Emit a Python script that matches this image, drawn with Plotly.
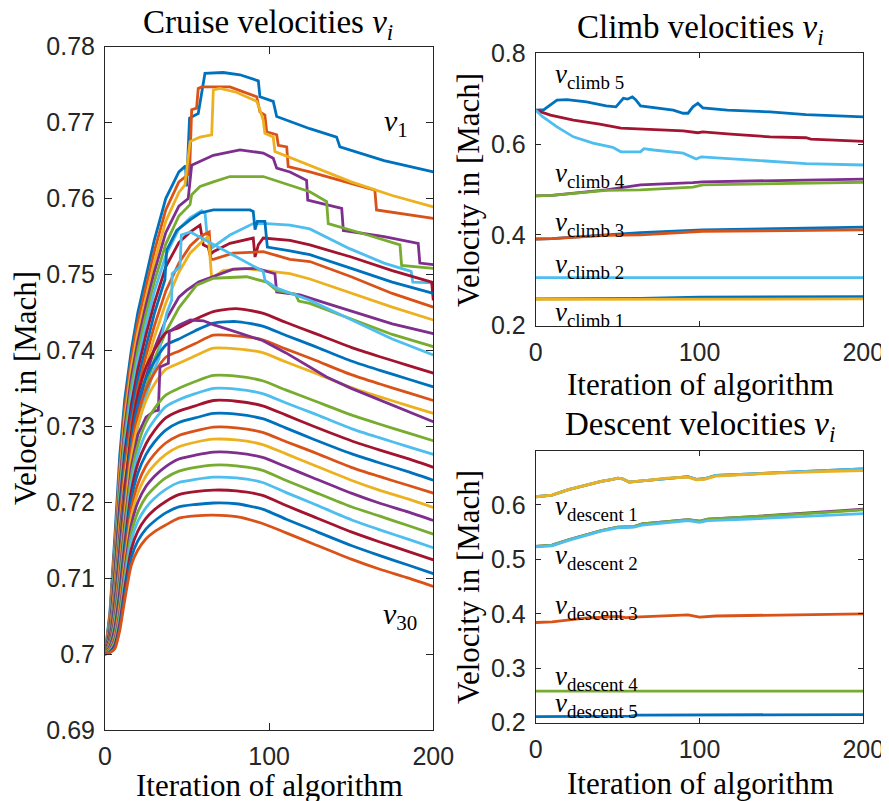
import plotly.graph_objects as go

# The page adds an 8px body margin, so page pixel p sits at figure pixel p - 8.
W, H = 889, 801
OFF = 8
COLORS = ["#0072BD", "#D95319", "#EDB120", "#7E2F8E", "#77AC30", "#4DBEEE", "#A2142F"]

# ---------------- Cruise velocities ----------------
X_SMOOTH = [0, 3, 6, 9, 12, 16, 20, 25, 30, 37, 45, 55, 66, 80, 96, 110, 127, 150, 167, 185, 200]

v1_x = [0, 3, 6, 9, 12, 16, 20, 25, 30, 37, 45, 49.1, 49.7, 51.5, 56.8, 58.9, 60.9, 72, 82.2, 93.4, 94.4, 102.5, 104.6, 124.8, 141.1, 143.1, 170, 200]
v1_y = [0.7000, 0.7055, 0.7155, 0.7262, 0.7335, 0.7400, 0.7450, 0.7498, 0.7545, 0.7600, 0.7635, 0.7643, 0.7616, 0.7706, 0.7712, 0.7739, 0.7765, 0.7766, 0.7763, 0.7755, 0.7734, 0.7728, 0.7708, 0.7692, 0.7681, 0.7668, 0.7650, 0.7635]
v2_x = [0, 3, 6, 9, 12, 16, 20, 25, 30, 37, 45, 49.7, 51.5, 52.8, 55.8, 56.8, 58.9, 76.1, 92.4, 94.4, 97.4, 98.5, 104.6, 105.6, 110.7, 111.6, 124.8, 164.4, 165.4, 200]
v2_y = [0.7000, 0.7050, 0.7145, 0.7248, 0.7322, 0.7388, 0.7437, 0.7485, 0.7530, 0.7585, 0.7622, 0.7630, 0.7633, 0.7717, 0.7719, 0.7745, 0.7747, 0.7747, 0.7734, 0.7714, 0.7710, 0.7688, 0.7684, 0.7670, 0.7668, 0.7642, 0.7635, 0.7611, 0.7585, 0.7574]
v3_x = [0, 3, 6, 9, 12, 16, 20, 25, 30, 37, 45, 48.7, 51.8, 57.9, 65, 66, 70, 80, 92.4, 94.4, 96.4, 97.4, 102.5, 103.5, 124.8, 150, 175, 200]
v3_y = [0.7000, 0.7046, 0.7137, 0.7236, 0.7310, 0.7376, 0.7424, 0.7472, 0.7516, 0.7570, 0.7608, 0.7618, 0.7675, 0.7681, 0.7684, 0.7743, 0.7745, 0.7740, 0.7728, 0.7717, 0.7703, 0.7686, 0.7681, 0.7662, 0.7644, 0.7622, 0.7604, 0.7589]
v4_x = [0, 3, 6, 9, 12, 16, 20, 25, 30, 37, 45, 50.7, 52.8, 66, 82.2, 96.4, 102.5, 104.6, 112.7, 122.8, 123.5, 144.2, 145.2, 170, 190.8, 191.8, 200]
v4_y = [0.7000, 0.7042, 0.7130, 0.7225, 0.7298, 0.7364, 0.7412, 0.7460, 0.7503, 0.7555, 0.7590, 0.7600, 0.7644, 0.7657, 0.7664, 0.7660, 0.7653, 0.7640, 0.7635, 0.7624, 0.7598, 0.7587, 0.7558, 0.7550, 0.7541, 0.7515, 0.7513]
v5_x = [0, 3, 6, 9, 12, 16, 20, 25, 30, 37, 45, 51.8, 52.8, 57.9, 66, 76.1, 96.4, 110, 124.8, 135, 136, 160, 179.7, 180.7, 200]
v5_y = [0.7000, 0.7038, 0.7122, 0.7215, 0.7287, 0.7352, 0.7400, 0.7448, 0.7490, 0.7540, 0.7577, 0.7592, 0.7605, 0.7616, 0.7622, 0.7629, 0.7629, 0.7619, 0.7609, 0.7596, 0.7567, 0.7552, 0.7539, 0.7512, 0.7508]
v6_x = [0, 3, 6, 9, 12, 16, 20, 25, 30, 37, 45, 52, 58.9, 61, 62, 65, 76.1, 90.3, 98.5, 112.7, 124.8, 149, 170, 186.5, 187.5, 200]
v6_y = [0.7000, 0.7034, 0.7114, 0.7205, 0.7276, 0.7340, 0.7388, 0.7435, 0.7477, 0.7525, 0.7560, 0.7575, 0.7584, 0.7580, 0.7555, 0.7535, 0.7552, 0.7567, 0.7567, 0.7565, 0.7560, 0.7534, 0.7515, 0.7504, 0.7490, 0.7489]
v7_x = [0, 3, 6, 9, 12, 16, 20, 25, 30, 37, 45, 52, 57.9, 59.9, 62.9, 64, 66, 76.1, 90.3, 91.4, 93.4, 96.4, 112.7, 124.8, 150, 175, 199, 200]
v7_y = [0.7000, 0.7031, 0.7107, 0.7196, 0.7265, 0.7328, 0.7375, 0.7421, 0.7462, 0.7510, 0.7542, 0.7556, 0.7565, 0.7539, 0.7536, 0.7526, 0.7530, 0.7541, 0.7548, 0.7523, 0.7539, 0.7548, 0.7545, 0.7539, 0.7523, 0.7505, 0.7490, 0.7466]
v8_x = [0, 3, 6, 9, 12, 16, 20, 25, 30, 36.5, 37.6, 43.7, 51.8, 57.9, 66, 88.3, 90.3, 91.4, 92.8, 97.4, 98.9, 112.7, 124.8, 150, 175, 200]
v8_y = [0.7000, 0.7028, 0.7100, 0.7187, 0.7254, 0.7316, 0.7362, 0.7407, 0.7448, 0.7493, 0.7532, 0.7558, 0.7572, 0.7581, 0.7585, 0.7585, 0.7583, 0.7559, 0.7570, 0.7570, 0.7536, 0.7531, 0.7526, 0.7508, 0.7490, 0.7475]
v9_x = [0, 3, 6, 9, 12, 16, 20, 25, 30, 37, 45, 52, 58, 63.5, 64.5, 66, 78, 92.4, 96.4, 112.7, 124.8, 150, 175, 200]
v9_y = [0.7000, 0.7025, 0.7093, 0.7178, 0.7243, 0.7304, 0.7349, 0.7393, 0.7432, 0.7478, 0.7515, 0.7538, 0.7550, 0.7556, 0.7520, 0.7520, 0.7528, 0.7530, 0.7530, 0.7520, 0.7517, 0.7497, 0.7475, 0.7457]
v10_x = [0, 3, 6, 9, 12, 16, 20, 25, 30, 37, 45, 51.8, 59.9, 63, 65, 72, 85, 96.4, 112.7, 124.8, 150, 175, 200]
v10_y = [0.7000, 0.7022, 0.7086, 0.7168, 0.7232, 0.7292, 0.7336, 0.7379, 0.7417, 0.7462, 0.7503, 0.7528, 0.7545, 0.7550, 0.7495, 0.7505, 0.7508, 0.7505, 0.7501, 0.7494, 0.7475, 0.7457, 0.7440]
v11_x = [0, 3, 6, 9, 12, 16, 20, 25, 30, 37, 45, 49.7, 57, 66, 78.1, 92.4, 103.5, 104.6, 118.8, 135, 150, 175, 200]
v11_y = [0.7000, 0.7020, 0.7079, 0.7159, 0.7222, 0.7281, 0.7323, 0.7365, 0.7402, 0.7440, 0.7470, 0.7479, 0.7490, 0.7497, 0.7507, 0.7508, 0.7501, 0.7477, 0.7473, 0.7462, 0.7452, 0.7435, 0.7422]
v12_x = [0, 3, 6, 9, 12, 16, 20, 25, 30, 37, 45, 55.8, 66, 86.3, 98.5, 104.6, 116, 118, 124.8, 150, 175, 200]
v12_y = [0.7000, 0.7018, 0.7074, 0.7150, 0.7212, 0.7270, 0.7311, 0.7352, 0.7388, 0.7424, 0.7456, 0.7486, 0.7495, 0.7497, 0.7490, 0.7479, 0.7474, 0.7465, 0.7462, 0.7441, 0.7421, 0.7405]
v13_x = [0, 3, 6, 9, 12, 16, 20, 25, 30, 33, 34, 37.6, 40.6, 40.9, 45.7, 46.5, 52, 96.4, 97.5, 104.6, 124.8, 150, 175, 200]
v13_y = [0.7000, 0.7016, 0.7070, 0.7143, 0.7203, 0.7260, 0.7300, 0.7340, 0.7375, 0.7390, 0.7413, 0.7449, 0.7466, 0.7501, 0.7510, 0.7552, 0.7556, 0.7504, 0.7492, 0.7482, 0.7466, 0.7440, 0.7415, 0.7394]
v14_y = [0.7000, 0.7021, 0.7068, 0.7137, 0.7210, 0.7291, 0.7341, 0.7378, 0.7400, 0.7423, 0.7430, 0.7441, 0.7451, 0.7455, 0.7449, 0.7437, 0.7423, 0.7404, 0.7392, 0.7380, 0.7370]
v15_y = [0.7000, 0.7019, 0.7063, 0.7129, 0.7200, 0.7280, 0.7329, 0.7364, 0.7385, 0.7407, 0.7415, 0.7426, 0.7436, 0.7438, 0.7432, 0.7420, 0.7406, 0.7386, 0.7374, 0.7362, 0.7352]
v16_y = [0.7000, 0.7017, 0.7057, 0.7120, 0.7190, 0.7269, 0.7315, 0.7349, 0.7370, 0.7391, 0.7399, 0.7409, 0.7420, 0.7419, 0.7414, 0.7402, 0.7388, 0.7368, 0.7356, 0.7344, 0.7334]
v17_y = [0.7000, 0.7016, 0.7052, 0.7112, 0.7181, 0.7258, 0.7302, 0.7334, 0.7355, 0.7375, 0.7383, 0.7393, 0.7403, 0.7402, 0.7397, 0.7385, 0.7371, 0.7351, 0.7339, 0.7327, 0.7317]
v18_x = [0, 3, 6, 9, 12, 16, 20, 25, 30, 32.5, 33.5, 38.6, 39.2, 45, 52, 60, 66, 76, 96, 110, 135, 150, 167, 185, 200]
v18_y = [0.7000, 0.7014, 0.7047, 0.7104, 0.7171, 0.7246, 0.7289, 0.7312, 0.7320, 0.7321, 0.7378, 0.7383, 0.7425, 0.7433, 0.7440, 0.7439, 0.7434, 0.7427, 0.7413, 0.7397, 0.7365, 0.7350, 0.7335, 0.7320, 0.7306]
v19_y = [0.7000, 0.7013, 0.7043, 0.7096, 0.7161, 0.7235, 0.7275, 0.7305, 0.7323, 0.7341, 0.7350, 0.7359, 0.7367, 0.7366, 0.7360, 0.7348, 0.7334, 0.7315, 0.7303, 0.7291, 0.7281]
v20_y = [0.7000, 0.7011, 0.7038, 0.7089, 0.7152, 0.7224, 0.7263, 0.7291, 0.7308, 0.7326, 0.7335, 0.7343, 0.7350, 0.7349, 0.7343, 0.7331, 0.7317, 0.7297, 0.7285, 0.7273, 0.7263]
v21_y = [0.7000, 0.7010, 0.7034, 0.7082, 0.7144, 0.7214, 0.7251, 0.7277, 0.7294, 0.7311, 0.7320, 0.7327, 0.7334, 0.7333, 0.7327, 0.7315, 0.7300, 0.7281, 0.7269, 0.7257, 0.7246]
v22_y = [0.7000, 0.7009, 0.7030, 0.7075, 0.7135, 0.7203, 0.7238, 0.7263, 0.7279, 0.7295, 0.7305, 0.7311, 0.7317, 0.7316, 0.7310, 0.7298, 0.7283, 0.7264, 0.7252, 0.7240, 0.7229]
v23_y = [0.7000, 0.7008, 0.7026, 0.7068, 0.7126, 0.7191, 0.7224, 0.7248, 0.7263, 0.7278, 0.7288, 0.7294, 0.7299, 0.7298, 0.7292, 0.7280, 0.7266, 0.7246, 0.7234, 0.7222, 0.7212]
v24_y = [0.7000, 0.7007, 0.7023, 0.7062, 0.7118, 0.7181, 0.7212, 0.7235, 0.7249, 0.7263, 0.7273, 0.7279, 0.7283, 0.7282, 0.7276, 0.7264, 0.7249, 0.7229, 0.7216, 0.7204, 0.7193]
v25_y = [0.7000, 0.7006, 0.7020, 0.7056, 0.7110, 0.7170, 0.7200, 0.7221, 0.7234, 0.7247, 0.7257, 0.7262, 0.7266, 0.7265, 0.7259, 0.7247, 0.7232, 0.7212, 0.7199, 0.7187, 0.7176]
v26_y = [0.7000, 0.7005, 0.7017, 0.7051, 0.7102, 0.7159, 0.7187, 0.7207, 0.7219, 0.7232, 0.7241, 0.7246, 0.7249, 0.7248, 0.7242, 0.7229, 0.7214, 0.7194, 0.7182, 0.7169, 0.7158]
v27_y = [0.7000, 0.7004, 0.7014, 0.7045, 0.7094, 0.7149, 0.7175, 0.7193, 0.7205, 0.7217, 0.7226, 0.7230, 0.7233, 0.7232, 0.7226, 0.7213, 0.7198, 0.7177, 0.7164, 0.7151, 0.7140]
v28_y = [0.7000, 0.7003, 0.7012, 0.7040, 0.7086, 0.7138, 0.7162, 0.7179, 0.7190, 0.7201, 0.7210, 0.7214, 0.7216, 0.7215, 0.7209, 0.7196, 0.7181, 0.7161, 0.7148, 0.7135, 0.7124]
v29_y = [0.7000, 0.7002, 0.7009, 0.7035, 0.7078, 0.7127, 0.7149, 0.7165, 0.7175, 0.7186, 0.7194, 0.7197, 0.7199, 0.7198, 0.7191, 0.7178, 0.7163, 0.7143, 0.7130, 0.7117, 0.7106]
v30_y = [0.7000, 0.7002, 0.7007, 0.7031, 0.7071, 0.7117, 0.7137, 0.7152, 0.7161, 0.7170, 0.7179, 0.7182, 0.7183, 0.7181, 0.7172, 0.7160, 0.7145, 0.7125, 0.7112, 0.7100, 0.7089]

CRUISE = [
    (v1_x, v1_y, False), (v2_x, v2_y, False), (v3_x, v3_y, False), (v4_x, v4_y, False),
    (v5_x, v5_y, False), (v6_x, v6_y, False), (v7_x, v7_y, False), (v8_x, v8_y, False),
    (v9_x, v9_y, False), (v10_x, v10_y, False), (v11_x, v11_y, False), (v12_x, v12_y, False),
    (v13_x, v13_y, False), (X_SMOOTH, v14_y, True), (X_SMOOTH, v15_y, True), (X_SMOOTH, v16_y, True),
    (X_SMOOTH, v17_y, True), (v18_x, v18_y, False), (X_SMOOTH, v19_y, True), (X_SMOOTH, v20_y, True),
    (X_SMOOTH, v21_y, True), (X_SMOOTH, v22_y, True), (X_SMOOTH, v23_y, True), (X_SMOOTH, v24_y, True),
    (X_SMOOTH, v25_y, True), (X_SMOOTH, v26_y, True), (X_SMOOTH, v27_y, True), (X_SMOOTH, v28_y, True),
    (X_SMOOTH, v29_y, True), (X_SMOOTH, v30_y, True),
]

# ---------------- Climb velocities ----------------
c5a_x = [0, 5, 13, 19, 31, 41, 43, 49, 53.5, 56, 59, 61, 64, 84, 90, 93, 96, 99, 102, 117, 143, 165, 200]
c5a_y = [0.675, 0.676, 0.697, 0.698, 0.693, 0.686, 0.684, 0.682, 0.701, 0.699, 0.704, 0.698, 0.684, 0.675, 0.668, 0.668, 0.682, 0.690, 0.680, 0.675, 0.671, 0.665, 0.660]
c5b_x = [0, 9, 23, 39, 52, 64, 90, 99, 102, 119, 143, 165, 168, 200]
c5b_y = [0.675, 0.664, 0.653, 0.644, 0.635, 0.633, 0.629, 0.625, 0.627, 0.622, 0.616, 0.614, 0.611, 0.606]
c5c_x = [0, 4, 13, 23, 35, 47, 52, 64, 66, 72, 90, 98, 101, 117, 143, 165, 200]
c5c_y = [0.675, 0.661, 0.638, 0.616, 0.602, 0.593, 0.583, 0.583, 0.590, 0.587, 0.580, 0.567, 0.572, 0.568, 0.561, 0.557, 0.554]
c4a_x = [0, 10, 43, 64, 96, 102, 200]
c4a_y = [0.486, 0.487, 0.499, 0.510, 0.515, 0.517, 0.523]
c4b_x = [0, 10, 43, 64, 96, 102, 200]
c4b_y = [0.486, 0.487, 0.498, 0.499, 0.505, 0.510, 0.516]
c3a_x = [0, 10, 43, 64, 102, 200]
c3a_y = [0.391, 0.392, 0.400, 0.405, 0.411, 0.417]
c3b_x = [0, 10, 43, 64, 102, 200]
c3b_y = [0.391, 0.392, 0.399, 0.400, 0.408, 0.411]
c2_x = [0, 200]
c2_y = [0.306, 0.306]
c1a_x = [0, 64, 100, 200]
c1a_y = [0.259, 0.260, 0.263, 0.264]
c1b_x = [0, 100, 200]
c1b_y = [0.258, 0.259, 0.259]

CLIMB = [
    (c1a_x, c1a_y, 0), (c1b_x, c1b_y, 2), (c2_x, c2_y, 5),
    (c3a_x, c3a_y, 0), (c3b_x, c3b_y, 1), (c4a_x, c4a_y, 3), (c4b_x, c4b_y, 4),
    (c5a_x, c5a_y, 0), (c5b_x, c5b_y, 6), (c5c_x, c5c_y, 5),
]

# ---------------- Descent velocities ----------------
d1_x = [0, 10, 20, 30, 40, 47, 50, 53, 57, 65, 80, 93, 98, 103, 110, 130, 150, 175, 200]
d1a_y = [0.615, 0.618, 0.628, 0.636, 0.643, 0.647, 0.649, 0.648, 0.642, 0.644, 0.649, 0.652, 0.647, 0.648, 0.654, 0.657, 0.660, 0.663, 0.666]
d1b_y = [0.615, 0.618, 0.628, 0.636, 0.643, 0.647, 0.649, 0.648, 0.642, 0.644, 0.649, 0.651, 0.646, 0.647, 0.653, 0.656, 0.659, 0.661, 0.663]
d2_x = [0, 10, 20, 30, 40, 50, 60, 65, 80, 93, 100, 105, 130, 150, 175, 200]
d2a_y = [0.524, 0.526, 0.536, 0.545, 0.553, 0.559, 0.560, 0.565, 0.569, 0.573, 0.570, 0.574, 0.578, 0.582, 0.587, 0.592]
d2b_y = [0.524, 0.526, 0.536, 0.545, 0.553, 0.559, 0.560, 0.565, 0.569, 0.573, 0.570, 0.574, 0.578, 0.581, 0.586, 0.591]
d2c_y = [0.523, 0.525, 0.535, 0.544, 0.552, 0.558, 0.559, 0.563, 0.567, 0.571, 0.568, 0.571, 0.574, 0.577, 0.581, 0.584]
d3_x = [0, 10, 30, 50, 55, 60, 93, 100, 110, 150, 200]
d3_y = [0.384, 0.385, 0.392, 0.395, 0.393, 0.394, 0.398, 0.394, 0.396, 0.398, 0.400]
d4_x = [0, 200]
d4_y = [0.258, 0.258]
d5_x = [0, 58, 62, 200]
d5_y = [0.211, 0.212, 0.214, 0.215]

DESCENT = [
    (d5_x, d5_y, 0), (d4_x, d4_y, 4), (d3_x, d3_y, 1),
    (d2_x, d2a_y, 3), (d2_x, d2b_y, 4), (d2_x, d2c_y, 5),
    (d1_x, d1a_y, 0), (d1_x, d1a_y, 5), (d1_x, d1b_y, 2),
]

# ---------------- Tick labels ----------------
CRUISE_TICKS = [0.69, 0.70, 0.71, 0.72, 0.73, 0.74, 0.75, 0.76, 0.77, 0.78]
CRUISE_TICKTEXT = ["0.69", "0.7", "0.71", "0.72", "0.73", "0.74", "0.75", "0.76", "0.77", "0.78"]
CLIMB_TICKS = [0.2, 0.4, 0.6, 0.8]
CLIMB_TICKTEXT = ["0.2", "0.4", "0.6", "0.8"]
DESC_TICKS = [0.2, 0.3, 0.4, 0.5, 0.6]
DESC_TICKTEXT = ["0.2", "0.3", "0.4", "0.5", "0.6"]
X_TICKS = [0, 100, 200]
X_TICKTEXT = ["0", "100", "200"]

# ---------------- Figure ----------------
fig = go.Figure()
LW = 2.8

for i, (xs, ys, smooth) in enumerate(CRUISE):
    fig.add_trace(go.Scatter(
        x=xs, y=ys, mode="lines", xaxis="x", yaxis="y",
        line=dict(color=COLORS[i % 7], width=LW, shape="spline" if smooth else "linear", smoothing=0.6),
        showlegend=False, hoverinfo="skip"))

for xs, ys, c in CLIMB:
    fig.add_trace(go.Scatter(x=xs, y=ys, mode="lines", xaxis="x2", yaxis="y2",
                             line=dict(color=COLORS[c], width=LW), showlegend=False, hoverinfo="skip"))

for xs, ys, c in DESCENT:
    fig.add_trace(go.Scatter(x=xs, y=ys, mode="lines", xaxis="x3", yaxis="y3",
                             line=dict(color=COLORS[c], width=LW), showlegend=False, hoverinfo="skip"))

AX = "#262626"
TICKFONT = dict(family="Liberation Sans, Arial, sans-serif", size=25, color=AX)


def axis(domain, rng, tickvals, ticktext, anchor, ticklen):
    return dict(domain=domain, range=rng, tickvals=tickvals, ticktext=ticktext, anchor=anchor,
                showline=True, linecolor=AX, linewidth=1, mirror="ticks", ticks="inside",
                ticklen=ticklen, tickwidth=1, tickcolor=AX, tickfont=TICKFONT, automargin=False,
                showgrid=False, zeroline=False, ticklabelstandoff=4)


def px_x(p):
    return (p - OFF) / W


def px_y(p):
    return 1 - (p - OFF) / H


L_X = [px_x(105), px_x(433.3)]
L_Y = [px_y(730), px_y(46.7)]
R_X = [px_x(535.7), px_x(863.3)]
T_Y = [px_y(325.7), px_y(53.3)]
B_Y = [px_y(722.7), px_y(451)]

fig.update_layout(
    width=W, height=H, margin=dict(l=0, r=0, t=0, b=0, autoexpand=False),
    paper_bgcolor="white", plot_bgcolor="white", showlegend=False,
    xaxis=axis(L_X, [0, 200], X_TICKS, X_TICKTEXT, "y", 7),
    yaxis=axis(L_Y, [0.69, 0.78], CRUISE_TICKS, CRUISE_TICKTEXT, "x", 7),
    xaxis2=axis(R_X, [0, 200], X_TICKS, X_TICKTEXT, "y2", 5),
    yaxis2=axis(T_Y, [0.2, 0.8], CLIMB_TICKS, CLIMB_TICKTEXT, "x2", 5),
    xaxis3=axis(R_X, [0, 200], X_TICKS, X_TICKTEXT, "y3", 5),
    yaxis3=axis(B_Y, [0.2, 0.699], DESC_TICKS, DESC_TICKTEXT, "x3", 5),
)

SERIF = "Liberation Serif, Times New Roman, serif"
ann = []


def paper_text(text, x, y, size, angle=0):
    ann.append(dict(text=text, x=px_x(x), y=px_y(y), xref="paper", yref="paper",
                    xanchor="center", yanchor="middle", showarrow=False, textangle=angle,
                    font=dict(family=SERIF, size=size, color="#000000")))


paper_text("Cruise velocities <i>v</i><sub><i>i</i></sub>", 268, 24, 33)
paper_text("Climb velocities <i>v</i><sub><i>i</i></sub>", 700, 30, 33)
paper_text("Descent velocities <i>v</i><sub><i>i</i></sub>", 700, 427, 33)
paper_text("Iteration of algorithm", 269, 785, 31)
paper_text("Iteration of algorithm", 700, 384, 31)
paper_text("Iteration of algorithm", 700, 783, 31)
paper_text("Velocity in [Mach]", 25, 388, 31, -90)
paper_text("Velocity in [Mach]", 468, 190, 31, -90)
paper_text("Velocity in [Mach]", 468, 587, 31, -90)


def data_text(text, x, y, xr, yr, size, xanchor="left"):
    ann.append(dict(text=text, x=x, y=y, xref=xr, yref=yr, xanchor=xanchor, yanchor="middle",
                    showarrow=False, font=dict(family=SERIF, size=size, color="#000000")))


data_text("<i>v</i><sub>1</sub>", 177, 0.7700, "x", "y", 30, "center")
data_text("<i>v</i><sub>30</sub>", 180, 0.7050, "x", "y", 30, "center")
for txt, yv in [("climb 5", 0.750), ("climb 4", 0.533), ("climb 3", 0.423), ("climb 2", 0.331), ("climb 1", 0.225)]:
    data_text("<i>v</i><sub>" + txt + "</sub>", 10.5, yv, "x2", "y2", 27)
for txt, yv in [("descent 1", 0.594), ("descent 2", 0.505), ("descent 3", 0.413), ("descent 4", 0.282), ("descent 5", 0.233)]:
    data_text("<i>v</i><sub>" + txt + "</sub>", 10.5, yv, "x3", "y3", 27)

fig.update_layout(annotations=ann)
fig.write_html("out.html")
